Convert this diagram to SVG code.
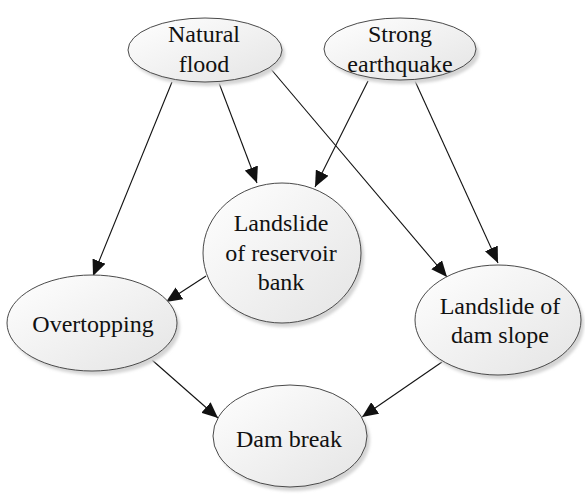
<svg xmlns="http://www.w3.org/2000/svg" width="585" height="494" viewBox="0 0 585 494">
<defs>
<linearGradient id="g" x1="0" y1="0" x2="1" y2="1">
<stop offset="0" stop-color="#ffffff"/>
<stop offset="1" stop-color="#e4e4e4"/>
</linearGradient>
<filter id="blur" x="-20%" y="-20%" width="140%" height="140%"><feGaussianBlur stdDeviation="1.5"/></filter>
<marker id="arr" markerUnits="userSpaceOnUse" markerWidth="18" markerHeight="14" refX="16" refY="7" orient="auto">
<path d="M0,0 L16,7 L0,14 z" fill="#111"/>
</marker>
</defs>
<style>
.sh{fill:#d4d4d4;filter:url(#blur)}
.nd{fill:url(#g);stroke:#4a4a4a;stroke-width:1}
.t{font-family:"Liberation Serif","Times New Roman",Times,serif;font-size:24px;fill:#111;text-anchor:middle}
.e{stroke:#111;stroke-width:1.1;fill:none;marker-end:url(#arr)}
</style>
<rect width="585" height="494" fill="#fff"/>
<g id="connectors">
<line class="e" x1="172" y1="82" x2="93" y2="276"/>
<line class="e" x1="219" y1="83" x2="257" y2="183"/>
<line class="e" x1="270" y1="68" x2="447" y2="277"/>
<line class="e" x1="368" y1="81" x2="315" y2="187"/>
<line class="e" x1="415" y1="81" x2="498" y2="263"/>
<line class="e" x1="206" y1="276" x2="166" y2="302"/>
<line class="e" x1="152" y1="360" x2="218" y2="418"/>
<line class="e" x1="442" y1="362" x2="362" y2="417"/>
</g>
<g id="natural-flood">
<ellipse class="sh" cx="208" cy="54" rx="77" ry="32"/>
<ellipse class="nd" cx="205" cy="50" rx="77" ry="32"/>
<text class="t" x="204" y="42">Natural</text>
<text class="t" x="204" y="72">flood</text>
</g>
<g id="strong-earthquake">
<ellipse class="sh" cx="403" cy="53" rx="76" ry="31"/>
<ellipse class="nd" cx="400" cy="49" rx="76" ry="31"/>
<text class="t" x="400" y="42">Strong</text>
<text class="t" x="400" y="72">earthquake</text>
</g>
<g id="landslide-reservoir-bank">
<ellipse class="sh" cx="285" cy="257" rx="79" ry="70"/>
<ellipse class="nd" cx="282" cy="253" rx="79" ry="70"/>
<text class="t" x="281" y="231">Landslide</text>
<text class="t" x="281" y="261">of reservoir</text>
<text class="t" x="281" y="290">bank</text>
</g>
<g id="overtopping">
<ellipse class="sh" cx="95" cy="327" rx="85" ry="48"/>
<ellipse class="nd" cx="92" cy="323" rx="85" ry="48"/>
<text class="t" x="93" y="332">Overtopping</text>
</g>
<g id="landslide-dam-slope">
<ellipse class="sh" cx="501" cy="324" rx="83" ry="55"/>
<ellipse class="nd" cx="498" cy="320" rx="83" ry="55"/>
<text class="t" x="500" y="314">Landslide of</text>
<text class="t" x="500" y="343">dam slope</text>
</g>
<g id="dam-break">
<ellipse class="sh" cx="293" cy="440" rx="77" ry="51"/>
<ellipse class="nd" cx="290" cy="436" rx="77" ry="51"/>
<text class="t" x="289" y="447">Dam break</text>
</g>
</svg>
